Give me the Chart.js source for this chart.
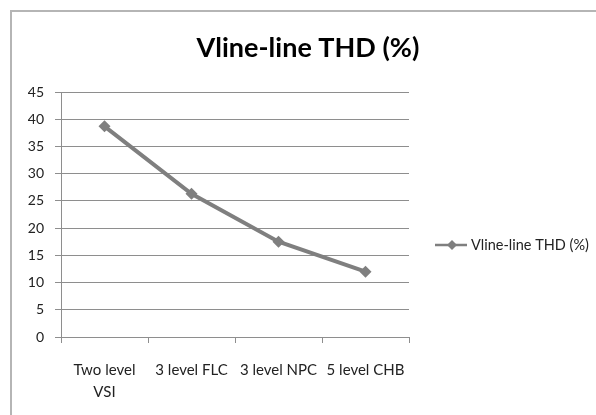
<!DOCTYPE html>
<html>
<head>
<meta charset="utf-8">
<script src="https://cdn.jsdelivr.net/npm/chart.js@4"></script>
<style>
  html, body { margin: 0; padding: 0; background: #fff; overflow: hidden; }
  #frame { position: absolute; left: 10px; top: 10px; width: 640px; height: 460px; border: 2px solid #b5b5b5; }
  #chartBox { position: absolute; left: 0; top: 0; width: 596px; height: 415px; }
</style>
</head>
<body>
<div id="frame"></div>
<div id="chartBox"><canvas id="thdChart" width="596" height="415"></canvas></div>
<script>
let chartTitle = 'Vline-line THD (%)';
let seriesName = 'Vline-line THD (%)';
let categories = [['Two level', 'VSI'], '3 level FLC', '3 level NPC', '5 level CHB'];
let thdValues = [38.7, 26.3, 17.5, 12.0];
let yMin = 0;
let yMax = 45;
let yStep = 5;

let fontName = 'Lato, "Open Sans", sans-serif';
let lineGrey = '#7f7f7f';
let gridGrey = '#8e8e8e';

// title and the legend entry are painted by hand so they sit where we want them
let textPlugin = {
    id: 'chartText',
    afterDraw(chart) {
        let ctx = chart.ctx;
        ctx.save();
        ctx.fillStyle = '#000';
        ctx.font = 'bold 27px ' + fontName;
        ctx.textAlign = 'center';
        ctx.textBaseline = 'middle';
        ctx.fillText(chartTitle, 308, 48);

        let ly = 245;
        ctx.strokeStyle = lineGrey;
        ctx.lineWidth = 2.5;
        ctx.beginPath();
        ctx.moveTo(435, ly);
        ctx.lineTo(467, ly);
        ctx.stroke();
        ctx.fillStyle = lineGrey;
        ctx.beginPath();
        ctx.moveTo(452, ly - 5);
        ctx.lineTo(457, ly);
        ctx.lineTo(452, ly + 5);
        ctx.lineTo(447, ly);
        ctx.closePath();
        ctx.fill();

        ctx.fillStyle = '#222';
        ctx.font = '14.5px ' + fontName;
        ctx.textAlign = 'left';
        ctx.fillText(seriesName, 471, ly);
        ctx.restore();
    }
};

let ctx = document.getElementById('thdChart').getContext('2d');
let thdChart = new Chart(ctx, {
    type: 'line',
    data: {
        labels: categories,
        datasets: [{
            label: seriesName,
            data: thdValues,
            borderColor: lineGrey,
            backgroundColor: lineGrey,
            borderWidth: 4,
            pointStyle: 'rectRot',
            pointRadius: 6,
            pointBorderWidth: 0,
            tension: 0,
            fill: false
        }]
    },
    options: {
        responsive: false,
        animation: false,
        events: [],
        layout: { padding: { left: 0, right: 187, top: 92, bottom: 0 } },
        plugins: {
            legend: { display: false },
            title: { display: false },
            tooltip: { enabled: false }
        },
        scales: {
            x: {
                offset: true,
                grid: {
                    offset: true,
                    drawOnChartArea: false,
                    color: gridGrey,
                    tickLength: 6
                },
                border: { color: gridGrey },
                ticks: {
                    color: '#222',
                    font: { family: fontName, size: 15, lineHeight: 1.47 },
                    padding: 16,
                    maxRotation: 0,
                    autoSkip: false
                },
                afterFit(scale) { scale.height = 78; }
            },
            y: {
                min: yMin,
                max: yMax,
                grid: {
                    color: gridGrey,
                    tickLength: 6
                },
                border: { color: gridGrey },
                ticks: {
                    stepSize: yStep,
                    color: '#222',
                    font: { family: fontName, size: 14 },
                    padding: 11
                },
                afterFit(scale) { scale.width = 61; }
            }
        }
    },
    plugins: [textPlugin]
});
</script>
</body>
</html>
